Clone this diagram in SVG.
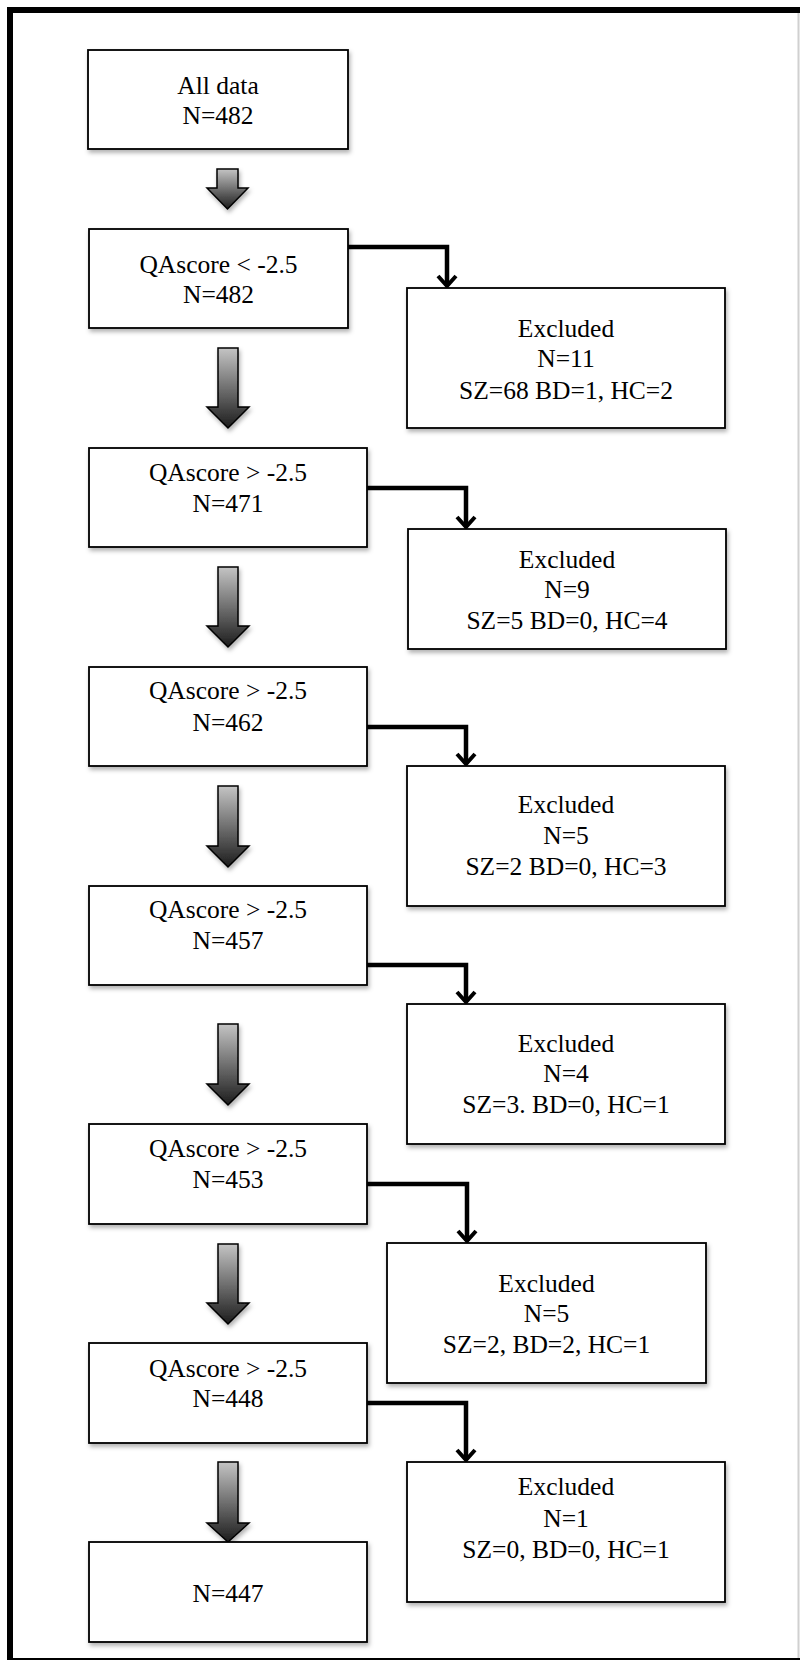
<svg xmlns="http://www.w3.org/2000/svg" width="800" height="1660" viewBox="0 0 800 1660">
<defs>
<style>
.box{fill:#fff;stroke:#000;stroke-width:1.8;filter:url(#sh)}
.t{font-family:"Liberation Serif","Times New Roman",serif;font-size:25.5px;fill:#000;text-anchor:middle}
.conn{fill:none;stroke:#000;stroke-width:4.5;stroke-linejoin:miter;marker-end:url(#chev)}
.blk{fill:url(#grad);stroke:#000;stroke-width:1.5;filter:url(#sh)}
</style>
<linearGradient id="grad" x1="0" y1="0" x2="0" y2="1">
<stop offset="0" stop-color="#c4c4c4"/>
<stop offset="1" stop-color="#1c1c1c"/>
</linearGradient>
<filter id="sh" x="-10%" y="-10%" width="130%" height="130%">
<feDropShadow dx="1.5" dy="3" stdDeviation="2" flood-color="#000" flood-opacity="0.3"/>
</filter>
<marker id="chev" markerUnits="userSpaceOnUse" viewBox="-15 -15 30 30" markerWidth="30" markerHeight="30" refX="0" refY="0" orient="auto" overflow="visible">
<path d="M-10,-9 L0,0 L-10,9" fill="none" stroke="#000" stroke-width="4"/>
</marker>
</defs>
<rect width="800" height="1660" fill="#fff"/>
<line x1="798.5" y1="10" x2="798.5" y2="1660" stroke="#d0d0d0" stroke-width="2"/>
<rect x="10" y="10" width="795" height="1651" fill="none" stroke="#000" stroke-width="6"/>

<g id="connectors">
<path class="conn" d="M348,247 H447 V286"/>
<path class="conn" d="M367,488 H466 V527"/>
<path class="conn" d="M367,727 H466 V764"/>
<path class="conn" d="M367,965 H466 V1002"/>
<path class="conn" d="M367,1184 H467 V1241"/>
<path class="conn" d="M367,1403 H466 V1460"/>
<polygon class="blk" points="217,169 238,169 238,188 248,188 227.5,209 207,188 217,188"/>
<polygon class="blk" points="218,348 238,348 238,407 249,407 228,428 207,407 218,407"/>
<polygon class="blk" points="218,567 238,567 238,626 249,626 228,647 207,626 218,626"/>
<polygon class="blk" points="218,786 238,786 238,846 249,846 228,867 207,846 218,846"/>
<polygon class="blk" points="218,1024 238,1024 238,1084 249,1084 228,1105 207,1084 218,1084"/>
<polygon class="blk" points="218,1244 238,1244 238,1303 249,1303 228,1324 207,1303 218,1303"/>
<polygon class="blk" points="218,1462 238,1462 238,1523 249,1523 228,1542 207,1523 218,1523"/>
</g>

<g id="b1"><rect class="box" x="88" y="50" width="260" height="99"/>
<text class="t" x="218" y="94">All data</text><text class="t" x="218" y="124">N=482</text></g>
<g id="b2"><rect class="box" x="89" y="229" width="259" height="99"/>
<text class="t" x="218.5" y="273">QAscore &lt; -2.5</text><text class="t" x="218.5" y="303">N=482</text></g>
<g id="b3"><rect class="box" x="89" y="448" width="278" height="99"/>
<text class="t" x="228" y="481">QAscore &gt; -2.5</text><text class="t" x="228" y="512">N=471</text></g>
<g id="b4"><rect class="box" x="89" y="667" width="278" height="99"/>
<text class="t" x="228" y="699">QAscore &gt; -2.5</text><text class="t" x="228" y="731">N=462</text></g>
<g id="b5"><rect class="box" x="89" y="886" width="278" height="99"/>
<text class="t" x="228" y="918">QAscore &gt; -2.5</text><text class="t" x="228" y="949">N=457</text></g>
<g id="b6"><rect class="box" x="89" y="1124" width="278" height="100"/>
<text class="t" x="228" y="1157">QAscore &gt; -2.5</text><text class="t" x="228" y="1188">N=453</text></g>
<g id="b7"><rect class="box" x="89" y="1343" width="278" height="100"/>
<text class="t" x="228" y="1377">QAscore &gt; -2.5</text><text class="t" x="228" y="1407">N=448</text></g>
<g id="b8"><rect class="box" x="89" y="1542" width="278" height="100"/>
<text class="t" x="228" y="1602">N=447</text></g>

<g id="e1"><rect class="box" x="407" y="288" width="318" height="140"/>
<text class="t" x="566" y="337">Excluded</text><text class="t" x="566" y="367">N=11</text><text class="t" x="566" y="399">SZ=68 BD=1, HC=2</text></g>
<g id="e2"><rect class="box" x="408" y="529" width="318" height="120"/>
<text class="t" x="567" y="568">Excluded</text><text class="t" x="567" y="598">N=9</text><text class="t" x="567" y="629">SZ=5 BD=0, HC=4</text></g>
<g id="e3"><rect class="box" x="407" y="766" width="318" height="140"/>
<text class="t" x="566" y="813">Excluded</text><text class="t" x="566" y="844">N=5</text><text class="t" x="566" y="875">SZ=2 BD=0, HC=3</text></g>
<g id="e4"><rect class="box" x="407" y="1004" width="318" height="140"/>
<text class="t" x="566" y="1052">Excluded</text><text class="t" x="566" y="1082">N=4</text><text class="t" x="566" y="1113">SZ=3. BD=0, HC=1</text></g>
<g id="e5"><rect class="box" x="387" y="1243" width="319" height="140"/>
<text class="t" x="546.5" y="1292">Excluded</text><text class="t" x="546.5" y="1322">N=5</text><text class="t" x="546.5" y="1353">SZ=2, BD=2, HC=1</text></g>
<g id="e6"><rect class="box" x="407" y="1462" width="318" height="140"/>
<text class="t" x="566" y="1495">Excluded</text><text class="t" x="566" y="1527">N=1</text><text class="t" x="566" y="1558">SZ=0, BD=0, HC=1</text></g>
</svg>
